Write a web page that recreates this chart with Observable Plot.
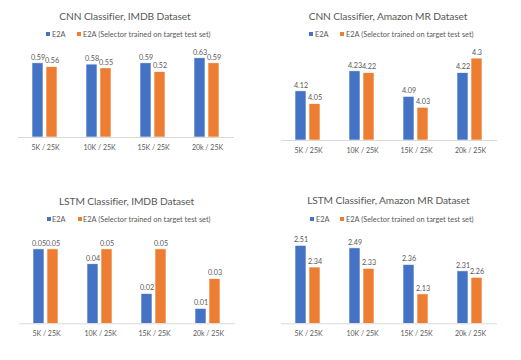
<!DOCTYPE html>
<html>
<head>
<meta charset="utf-8">
<script src="https://cdn.jsdelivr.net/npm/d3@7"></script>
<script src="https://cdn.jsdelivr.net/npm/@observablehq/plot@0.6"></script>
<style>
  html, body { margin: 0; padding: 0; background: #fff; }
  #root { position: relative; width: 521px; height: 360px; overflow: hidden; background: #fff; font-family: Lato, "Open Sans", sans-serif; color: #595959; }
  .panel { position: absolute; }
  .title { position: absolute; font-size: 10.2px; letter-spacing: -0.1px; color: #595959; white-space: nowrap; transform: translate(-50%, -50%); }
  .lg { position: absolute; font-size: 7.4px; color: #595959; white-space: nowrap; transform: translateY(-50%); }
  .sq { position: absolute; width: 4px; height: 4px; transform: translateY(-50%); }
</style>
</head>
<body>
<div id="root"></div>
<script>
const categories = ["5K / 25K", "10K / 25K", "15K / 25K", "20k / 25K"];
const seriesNames = ["E2A", "E2A (Selector trained on target test set)"];
const seriesColors = ["#4472C4", "#ED7D31"];

const titles = [
  "CNN Classifier, IMDB Dataset",
  "CNN Classifier, Amazon MR Dataset",
  "LSTM Classifier, IMDB Dataset",
  "LSTM Classifier, Amazon MR Dataset"
];

const cnnImdbE2A = [0.59, 0.58, 0.59, 0.63];
const cnnImdbSel = [0.56, 0.55, 0.52, 0.59];
const cnnAmazonE2A = [4.12, 4.23, 4.09, 4.22];
const cnnAmazonSel = [4.05, 4.22, 4.03, 4.3];
const lstmImdbE2A = [0.05, 0.04, 0.02, 0.01];
const lstmImdbSel = [0.05, 0.05, 0.05, 0.03];
const lstmAmazonE2A = [2.51, 2.49, 2.36, 2.31];
const lstmAmazonSel = [2.34, 2.33, 2.13, 2.26];

const yDomains = [[0, 0.7], [3.85, 4.35], [0, 0.06], [1.9, 2.6]];

function rows(a, b) {
  const out = [];
  categories.forEach((c, i) => {
    out.push({cat: c, series: seriesNames[0], value: a[i]});
    out.push({cat: c, series: seriesNames[1], value: b[i]});
  });
  return out;
}

const panels = [
  {data: rows(cnnImdbE2A, cnnImdbSel), left: 0, top: 0, width: 260, height: 180,
   mt: 49, mb: 43, ml: 17, mr: 26, title: [125, 16], legendY: 34, lg: [46, 52, 77, 83]},
  {data: rows(cnnAmazonE2A, cnnAmazonSel), left: 260, top: 0, width: 261, height: 180,
   mt: 49, mb: 40, ml: 20, mr: 24, title: [388, 16], legendY: 34, lg: [309, 315, 340, 346]},
  {data: rows(lstmImdbE2A, lstmImdbSel), left: 0, top: 180, width: 260, height: 180,
   mt: 54, mb: 36.7, ml: 17, mr: 24, title: [126.5, 200.5], legendY: 219, lg: [47, 52, 78, 83]},
  {data: rows(lstmAmazonE2A, lstmAmazonSel), left: 260, top: 180, width: 261, height: 180,
   mt: 53.8, mb: 36.7, ml: 20, mr: 24, title: [388.3, 200], legendY: 219, lg: [310, 316, 340, 346]}
];

const root = document.getElementById("root");

panels.forEach((p, k) => {
  const dom = yDomains[k];
  const chart = Plot.plot({
    width: p.width,
    height: p.height,
    marginTop: p.mt,
    marginBottom: p.mb,
    marginLeft: p.ml,
    marginRight: p.mr,
    style: {fontFamily: "Lato, 'Open Sans', sans-serif", fontSize: "7px", color: "#595959", background: "transparent"},
    fx: {domain: categories, padding: 0, label: null, axis: "bottom", tickSize: 0, tickPadding: 7.5},
    x: {domain: seriesNames, axis: null, paddingInner: 0.18, paddingOuter: 1.0},
    y: {domain: dom, axis: null},
    color: {domain: seriesNames, range: seriesColors},
    marks: [
      Plot.barY(p.data, {fx: "cat", x: "series", y1: () => dom[0], y2: "value", fill: "series", stroke: "#fff", strokeWidth: 0.6}),
      Plot.ruleY([dom[0]], {stroke: "#d9d9d9", strokeWidth: 1}),
      Plot.text(p.data, {fx: "cat", x: "series", y: "value", text: d => String(d.value), dy: -6, fill: "#595959", fontSize: 7.2})
    ]
  });
  const wrap = document.createElement("div");
  wrap.className = "panel";
  wrap.style.left = p.left + "px";
  wrap.style.top = p.top + "px";
  wrap.appendChild(chart);
  root.appendChild(wrap);

  const t = document.createElement("div");
  t.className = "title";
  t.textContent = titles[k];
  t.style.left = p.title[0] + "px";
  t.style.top = p.title[1] + "px";
  root.appendChild(t);

  for (let s = 0; s < 2; s++) {
    const sq = document.createElement("div");
    sq.className = "sq";
    sq.style.background = seriesColors[s];
    sq.style.left = p.lg[s * 2] + "px";
    sq.style.top = p.legendY + "px";
    root.appendChild(sq);
    const lt = document.createElement("div");
    lt.className = "lg";
    lt.textContent = seriesNames[s];
    lt.style.left = p.lg[s * 2 + 1] + "px";
    lt.style.top = p.legendY + "px";
    root.appendChild(lt);
  }
});
</script>
</body>
</html>
